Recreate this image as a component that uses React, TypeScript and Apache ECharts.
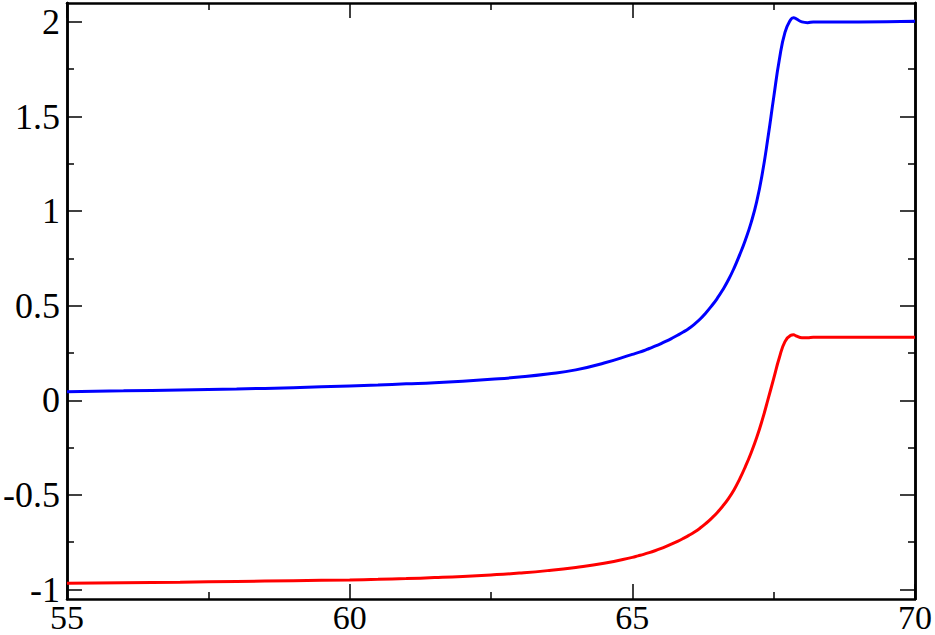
import React, { useEffect, useRef } from "react";
import * as echarts from "echarts";

const blueX = [55, 56, 57, 58, 59, 60, 60.5, 61, 61.5, 62, 62.5, 63, 63.5, 64, 64.5, 65, 65.1, 65.2, 65.3, 65.4, 65.5, 65.6, 65.7, 65.8, 65.9, 66, 66.1, 66.2, 66.3, 66.4, 66.5, 66.6, 66.7, 66.8, 66.9, 67, 67.1, 67.2, 67.3, 67.4, 67.5, 67.6, 67.7, 67.8, 67.85, 67.9, 68.0, 68.1, 68.2, 68.5, 69, 70];
const blueY = [0.046, 0.05, 0.055, 0.06, 0.067, 0.076, 0.081, 0.087, 0.093, 0.101, 0.111, 0.123, 0.139, 0.161, 0.197, 0.243, 0.252, 0.262, 0.274, 0.286, 0.299, 0.313, 0.328, 0.344, 0.361, 0.38, 0.403, 0.43, 0.462, 0.498, 0.538, 0.584, 0.637, 0.699, 0.77, 0.848, 0.938, 1.05, 1.2, 1.39, 1.6, 1.8, 1.945, 2.012, 2.022, 2.016, 2.0, 1.996, 2.0, 2.0, 2.0, 2.003];

const redX = [55, 56, 57, 58, 59, 60, 60.5, 61, 61.5, 62, 62.5, 63, 63.5, 64, 64.5, 65, 65.1, 65.2, 65.3, 65.4, 65.5, 65.6, 65.7, 65.8, 65.9, 66, 66.1, 66.2, 66.3, 66.4, 66.5, 66.6, 66.7, 66.8, 66.9, 67, 67.1, 67.2, 67.3, 67.4, 67.5, 67.6, 67.7, 67.8, 67.85, 67.9, 68.0, 68.1, 68.2, 68.5, 69, 70];
const redY = [-0.967, -0.964, -0.961, -0.957, -0.953, -0.949, -0.946, -0.942, -0.937, -0.931, -0.923, -0.913, -0.9, -0.883, -0.861, -0.83, -0.822, -0.814, -0.805, -0.795, -0.784, -0.772, -0.759, -0.745, -0.73, -0.714, -0.696, -0.675, -0.651, -0.624, -0.594, -0.559, -0.519, -0.472, -0.415, -0.35, -0.278, -0.197, -0.102, 0.005, 0.115, 0.225, 0.31, 0.343, 0.346, 0.34, 0.331, 0.331, 0.333, 0.333, 0.333, 0.333];

const xTicks = [55, 60, 65, 70];
const yTicks = [-1, -0.5, 0, 0.5, 1, 1.5, 2];
const yMinorTicks = [-0.75, -0.25, 0.25, 0.75, 1.25, 1.75];

const FONT = "Liberation Serif";

export default function App() {
  const ref = useRef<HTMLDivElement>(null);
  useEffect(() => {
    document.body.style.margin = "0";
    const chart = echarts.init(ref.current!, undefined, { renderer: "svg" });
    const lineStyle = { color: "#000", width: 2.5 };
    const tickStyle = { color: "#000", width: 1.5 };
    const xBase = (pos: "bottom" | "top", labels: boolean) => ({
      type: "value",
      position: pos,
      min: 55,
      max: 70,
      interval: 5,
      axisLine: { show: true, onZero: false, lineStyle },
      axisTick: { show: true, inside: true, length: 15, lineStyle: tickStyle },
      minorTick: { show: true, splitNumber: 2, length: 7, lineStyle: tickStyle },
      splitLine: { show: false },
      minorSplitLine: { show: false },
      axisLabel: labels
        ? {
            show: true,
            fontFamily: FONT,
            fontSize: 34,
            lineHeight: 26,
            color: "#000",
            margin: 5,
            customValues: xTicks,
          }
        : { show: false },
    });
    const yBase = (pos: "left" | "right", values: number[], len: number, labels: boolean) => ({
      type: "value",
      position: pos,
      min: -1.05,
      max: 2.1,
      axisLine: { show: true, onZero: false, lineStyle },
      axisTick: { show: true, inside: true, length: len, lineStyle: tickStyle, customValues: values },
      splitLine: { show: false },
      axisLabel: labels
        ? {
            show: true,
            fontFamily: FONT,
            fontSize: 36,
            color: "#000",
            margin: 7,
            customValues: values,
            formatter: (v: number) => String(v),
          }
        : { show: false },
    });
    chart.setOption({
      animation: false,
      backgroundColor: "#fff",
      grid: { left: 65, right: 20, top: 3, bottom: 36, containLabel: false },
      xAxis: [xBase("bottom", true), xBase("top", false)],
      yAxis: [
        yBase("left", yTicks, 15, true),
        yBase("left", yMinorTicks, 7, false),
        yBase("right", yTicks, 15, false),
        yBase("right", yMinorTicks, 7, false),
      ],
      series: [
        {
          type: "line",
          data: blueX.map((x, i) => [x, blueY[i]]),
          xAxisIndex: 0,
          yAxisIndex: 0,
          showSymbol: false,
          smooth: 0.5,
          lineStyle: { color: "#0000ff", width: 3 },
        },
        {
          type: "line",
          data: redX.map((x, i) => [x, redY[i]]),
          xAxisIndex: 0,
          yAxisIndex: 0,
          showSymbol: false,
          smooth: 0.5,
          lineStyle: { color: "#ff0000", width: 3 },
        },
      ],
    });
    return () => chart.dispose();
  }, []);
  return <div ref={ref} style={{ width: 935, height: 635 }} />;
}
